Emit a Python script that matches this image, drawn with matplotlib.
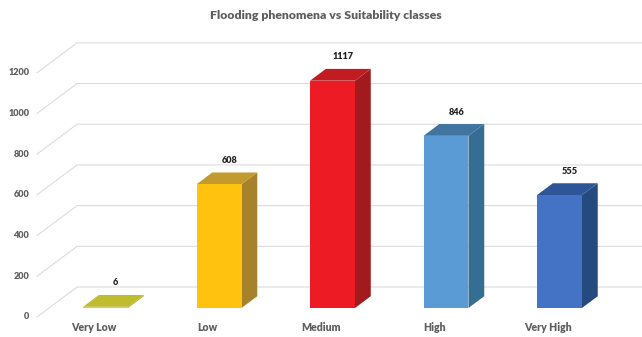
import matplotlib.pyplot as plt

plt.rcParams['font.family'] = ['Lato', 'DejaVu Sans']

categories = ['Very Low', 'Low', 'Medium', 'High', 'Very High']
counts = [6, 608, 1117, 846, 555]
y_ticks = [0, 200, 400, 600, 800, 1000, 1200]

front_colors = ['#D9D22E', '#FFC20E', '#ED1C24', '#5B9BD5', '#4472C4']
top_colors = ['#C0BC30', '#C39A2E', '#C11C22', '#41759F', '#2D5597']
side_colors = ['#B5AE2A', '#A6822B', '#A11A1E', '#356E93', '#254A80']

# fake 3d: offsets in (category, value) units
bar_w = 0.396
depth = (0.139, 58)          # bar front face -> bar back face
floor_front = (-0.104, -44)  # bar front plane -> floor front edge
wall_back = (0.249, 103)     # bar front plane -> back wall
wall_x = -0.5

grid_col = '#DCDCDC'
text_col = '#5E5E5E'

fig = plt.figure(figsize=(6.42, 3.37), dpi=100)
ax = fig.add_axes([0, 0, 1, 1])
ax.set_xlim(-0.93, 4.727)
ax.set_ylim(-142.5, 1513.5)
ax.axis('off')

# side wall + back wall gridlines
for v in y_ticks:
    x0, y0 = wall_x + floor_front[0], v + floor_front[1]
    x1, y1 = wall_x + wall_back[0], v + wall_back[1]
    ax.plot([x0, x1, 4.727], [y0, y1, y1], color=grid_col, lw=0.8, zorder=1,
            solid_joinstyle='miter')
    ax.text(x0 - 0.07, y0, str(v), ha='right', va='center', fontsize=6.6,
            fontweight='heavy', color=text_col)

# bars: side, top, then front
for i, v in enumerate(counts):
    left, right = i - bar_w / 2, i + bar_w / 2
    dx, dy = depth
    ax.fill([right, right + dx, right + dx, right], [0, dy, v + dy, v],
            color=side_colors[i], lw=0, zorder=2)
    ax.fill([left, right, right + dx, left + dx], [v, v, v + dy, v + dy],
            color=top_colors[i], lw=0, zorder=3)
    ax.text(i + 0.09, v + dy + 59, str(v), ha='center', va='center',
            fontsize=6.6, fontweight='heavy', color='#222222')

ax.bar(range(len(counts)), counts, width=bar_w, color=front_colors, zorder=4)

for i, name in enumerate(categories):
    ax.text(i + floor_front[0], -98, name, ha='center', va='center',
            fontsize=7.6, fontweight='heavy', color=text_col)

fig.text(0.508, 0.953, 'Flooding phenomena vs Suitability classes', ha='center',
         va='center', fontsize=8.8, fontweight='heavy', color=text_col)

fig.savefig('out.png', dpi=100)
